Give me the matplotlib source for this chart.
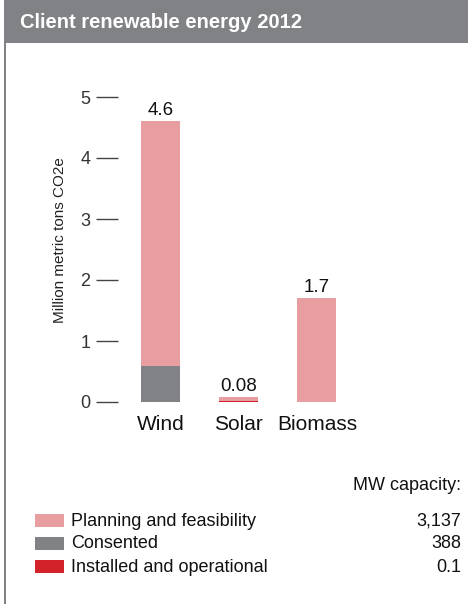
import numpy as np
import matplotlib.pyplot as plt
from matplotlib.patches import Rectangle

# ---------- DATA ----------
categories = ["Wind", "Solar", "Biomass"]
installed = [0.005, 0.012, 0.005]
consented = [0.59, 0.0, 0.0]
planning = [4.005, 0.068, 1.695]
totals_label = ["4.6", "0.08", "1.7"]

legend_names = ["Planning and feasibility", "Consented", "Installed and operational"]
mw_capacity = ["3,137", "388", "0.1"]

c_plan = "#E89EA0"
c_cons = "#808285"
c_inst = "#D2232A"

plt.rcParams['font.family'] = ['Liberation Sans Narrow', 'Liberation Sans', 'DejaVu Sans']

fig = plt.figure(figsize=(4.68, 6.04), dpi=100)
W, H = 468, 604

# ---------- FRAME ----------
fig.patches.append(Rectangle((4 / W, 1 - 43 / H), 1, 43 / H, transform=fig.transFigure,
                             facecolor=c_cons, edgecolor='none'))
fig.patches.append(Rectangle((4 / W, 0), 1.5 / W, 1, transform=fig.transFigure,
                             facecolor=c_cons, edgecolor='none'))
fig.text(20 / W, 1 - 22 / H, "Client renewable energy 2012", color='white',
         fontsize=14.5, fontweight='bold', va='center', ha='left')

# ---------- CHART ----------
ax = fig.add_axes([118 / W, 1 - 402 / H, 238 / W, 305 / H])
x = np.arange(len(categories))
w = 0.5
ax.bar(x, installed, w, color=c_inst)
ax.bar(x, consented, w, bottom=installed, color=c_cons)
bottom2 = np.array(installed) + np.array(consented)
ax.bar(x, planning, w, bottom=bottom2, color=c_plan)
tops = bottom2 + np.array(planning)
for xi, t, lab in zip(x, tops, totals_label):
    ax.text(xi, t + 0.04, lab, ha='center', va='bottom', fontsize=13.5, color='#111111')

ax.set_xlim(-0.545, 2.5)
ax.set_ylim(0, 5)
ax.set_yticks(range(6))
ax.set_xticks(x)
ax.set_xticklabels(categories, fontsize=15, color='#111111')
ax.tick_params(axis='x', length=0, pad=9)
ax.tick_params(axis='y', length=16, width=1, color='#444444', labelsize=13,
               labelcolor='#333333', pad=4)
for s in ax.spines.values():
    s.set_visible(False)
ax.set_ylabel("Million metric tons CO2e", fontsize=11, color='#222222')
ax.yaxis.set_label_coords(-0.215, 0.53)
ax.patch.set_alpha(0)

# ---------- LEGEND ----------
fig.text(461 / W, 1 - 485 / H, "MW capacity:", ha='right', va='center', fontsize=13, color='#111111')
rows_y = [521, 544, 567]
for yy, name, col, val in zip(rows_y, legend_names, [c_plan, c_cons, c_inst], mw_capacity):
    fig.patches.append(Rectangle((35 / W, 1 - (yy + 6) / H), 29 / W, 13 / H,
                                 transform=fig.transFigure, facecolor=col, edgecolor='none'))
    fig.text(71 / W, 1 - yy / H, name, ha='left', va='center', fontsize=13, color='#111111')
    fig.text(461 / W, 1 - yy / H, val, ha='right', va='center', fontsize=13, color='#111111')

plt.savefig("out.png", dpi=100)
